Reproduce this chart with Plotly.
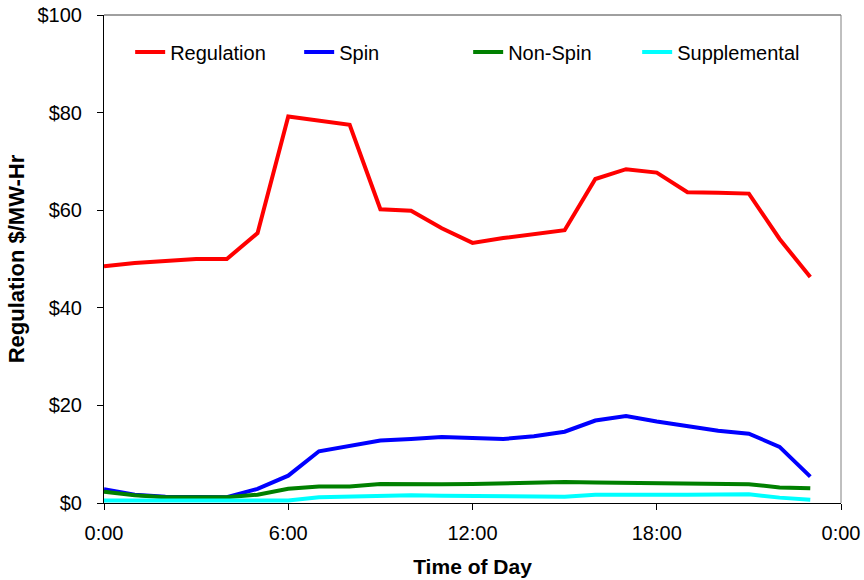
import plotly.graph_objects as go

# hourly prices, hour 0..23
hours = [0, 1, 2, 3, 4, 5, 6, 7, 8, 9, 10, 11, 12, 13, 14, 15, 16, 17, 18, 19, 20, 21, 22, 23]

regulation = [48.5, 49.2, 49.6, 50.0, 50.0, 55.3, 79.2, 78.4, 77.5, 60.2, 59.9, 56.3,
              53.3, 54.3, 55.0, 55.9, 66.4, 68.4, 67.7, 63.7, 63.6, 63.4, 54.1, 46.3]
spin = [2.8, 1.7, 1.3, 1.2, 1.2, 2.9, 5.6, 10.6, 11.6, 12.8, 13.1, 13.5,
        13.3, 13.1, 13.7, 14.6, 16.9, 17.8, 16.7, 15.7, 14.8, 14.2, 11.5, 5.4]
non_spin = [2.3, 1.6, 1.2, 1.2, 1.2, 1.7, 2.9, 3.4, 3.4, 3.9, 3.8, 3.85,
            3.9, 4.0, 4.3, 4.3, 4.2, 4.1, 4.05, 3.85, 3.85, 3.85, 3.2, 3.0]
supplemental = [0.5, 0.5, 0.5, 0.5, 0.5, 0.5, 0.5, 1.2, 1.4, 1.6, 1.6, 1.5,
                1.4, 1.3, 1.3, 1.3, 1.7, 1.8, 1.7, 1.7, 1.8, 1.8, 1.1, 0.65]

series_names = ["Regulation", "Spin", "Non-Spin", "Supplemental"]
series_colors = ["#ff0000", "#0000ff", "#008000", "#00ffff"]

x_tickvals = [0, 6, 12, 18, 24]
x_ticktext = ["0:00", "6:00", "12:00", "18:00", "0:00"]
y_tickvals = [0, 20, 40, 60, 80, 100]
y_ticktext = ["$0", "$20", "$40", "$60", "$80", "$100"]

FONT = "Liberation Sans, Arial, sans-serif"

fig = go.Figure()
for name, values, color in zip(series_names,
                               [regulation, spin, non_spin, supplemental],
                               series_colors):
    fig.add_trace(go.Scatter(x=hours, y=values, name=name, mode="lines",
                             line=dict(color=color, width=4)))

fig.update_xaxes(
    range=[0, 24],
    tickvals=x_tickvals,
    ticktext=x_ticktext,
    ticks="outside", ticklen=6, tickcolor="black",
    ticklabelstandoff=6,
    showline=True, linecolor="black", linewidth=1,
    showgrid=False, zeroline=False, automargin=False,
    tickfont=dict(size=20, color="black"),
    title=dict(text="<b>Time of Day</b>", font=dict(size=21, color="black"), standoff=16),
)
fig.update_yaxes(
    range=[0, 100],
    tickvals=y_tickvals,
    ticktext=y_ticktext,
    ticks="outside", ticklen=6, tickcolor="black",
    ticklabelstandoff=11,
    showline=True, linecolor="black", linewidth=1,
    showgrid=False, zeroline=False, automargin=False,
    tickfont=dict(size=20, color="black"),
    title=dict(text="<b>Regulation $/MW-Hr</b>", font=dict(size=22, color="black"), standoff=6),
)

# plot frame: dark top edge, grey right edge
fig.add_shape(type="line", xref="paper", yref="paper", x0=0, x1=1, y0=1, y1=1,
              line=dict(color="#404040", width=1))
fig.add_shape(type="line", xref="paper", yref="paper", x0=1, x1=1, y0=0, y1=1,
              line=dict(color="#808080", width=1))

fig.update_layout(
    width=864, height=580,
    margin=dict(l=104, r=23, t=15, b=77),
    paper_bgcolor="white", plot_bgcolor="white",
    font=dict(family=FONT, size=20, color="black"),
    showlegend=True,
    legend=dict(orientation="h", x=0.0355, xanchor="left", y=0.964, yanchor="top",
                entrywidth=124, entrywidthmode="pixels",
                bgcolor="rgba(0,0,0,0)", font=dict(size=20)),
)

# drop the browser's default 8px body margin so the figure fills the window
fig.write_html("out.html", config={"displayModeBar": False},
               post_script="document.body.style.margin = '0';")
